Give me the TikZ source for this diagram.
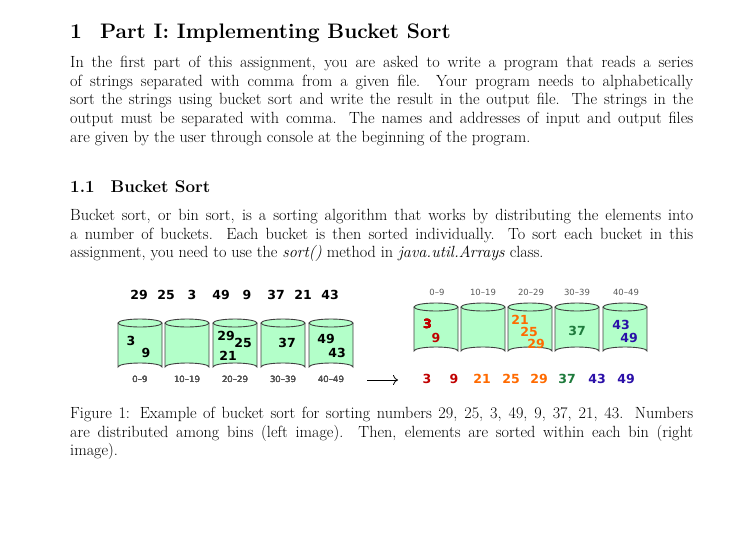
\documentclass[tikz,border=0pt]{standalone}
\usepackage{fontspec}
\usetikzlibrary{arrows.meta}
\newfontfamily\dv{DejaVu Sans}
\definecolor{bfill}{HTML}{B3FFC9}
\definecolor{cred}{HTML}{C00000}
\definecolor{corange}{HTML}{FF6A00}
\definecolor{cgreen}{HTML}{1E7A3C}
\definecolor{cblue}{HTML}{2A0FA8}
\newcommand{\cyl}[2]{%
  \path[fill=bfill,draw=black!75,line width=0.9pt] (#1-22,#2) -- (#1-22,#2+44) arc[start angle=180,end angle=360,x radius=22,y radius=4] -- (#1+22,#2) ;
  \draw[fill=bfill,draw=black!75,line width=0.9pt] (#1,#2) ellipse[x radius=22,y radius=4];}
\begin{document}
\begin{tikzpicture}[x=1pt,y=-1pt,
  body/.style={anchor=north west,inner sep=0pt,text width=623pt,align=justify,font=\fontsize{16.2}{18.7}\selectfont},
  num/.style={font=\dv\fontsize{12.5}{12.5}\selectfont\bfseries,inner sep=0pt},
  rng/.style={font=\dv\fontsize{8.5}{8.5}\selectfont\mdseries,text=black!65,inner sep=0pt}]
\useasboundingbox (0,0) rectangle (746,533);
\node[anchor=base west,inner sep=0pt,font=\fontsize{21}{21}\selectfont\bfseries] (h1) at (70,38) {1\hspace{18pt}Part I: Implementing Bucket Sort};
\node[body] (p1) at (70,56) {In the first part of this assignment, you are asked to write a program that reads a series\linebreak of strings separated with comma from a given file. Your program needs to alphabetically\linebreak sort the strings using bucket sort and write the result in the output file. The strings in the\linebreak output must be separated with comma. The names and addresses of input and output files\linebreak are given by the user through console at the beginning of the program.};
\node[anchor=base west,inner sep=0pt,font=\fontsize{17}{17}\selectfont\bfseries] (h2) at (70,192) {1.1\hspace{16pt}Bucket Sort};
\node[body] (p2) at (70,209) {Bucket sort, or bin sort, is a sorting algorithm that works by distributing the elements into a number of buckets. Each bucket is then sorted individually. To sort each bucket in this assignment, you need to use the \textit{sort()} method in \textit{java.util.Arrays} class.};
% left figure
\foreach \x/\t in {139/29,166/25,192/3,221/49,247/9,276/37,303/21,330/43}
  \node[num] (in\t) at (\x,295) {\t};
\foreach \x in {140,187,235,283,331} \cyl{\x}{323}
\foreach \x/\t in {140/0–9,187/10–19,235/20–29,283/30–39,331/40–49}
  \node[rng] (lr\x) at (\x,379) {\t};
\node[num] (a3) at (131,341) {3};
\node[num] (a9) at (146,353) {9};
\node[num] (a29) at (226,336) {29};
\node[num] (a25) at (243,343) {25};
\node[num] (a21) at (228,356) {21};
\node[num] (a37) at (287,343) {37};
\node[num] (a49) at (326,339) {49};
\node[num] (a43) at (337,353) {43};
% arrow
\coordinate (arS) at (367,380);
\coordinate (arE) at (398,380);
\draw[-{To[length=5pt,width=10pt]},line width=0.8pt] (arS) -- (arE);
% right figure
\foreach \x/\t in {437/0–9,483/10–19,531/20–29,577/30–39,626/40–49}
  \node[rng] (rr\x) at (\x,292) {\t};
\foreach \x in {436,483,530,577,625} \cyl{\x}{307}
\node[num,text=cred] (b3) at (427.5,324) {3};
\node[num,text=cred] (b9) at (436,338) {9};
\node[num,text=corange] (b21) at (520,320) {21};
\node[num,text=corange] (b25) at (529,332) {25};
\node[num,text=corange] (b29) at (536,344) {29};
\node[num,text=cgreen] (b37) at (577,331) {37};
\node[num,text=cblue] (b43) at (621,325) {43};
\node[num,text=cblue] (b49) at (629,338) {49};
\foreach \x/\t/\c in {427/3/cred,454/9/cred,482/21/corange,511/25/corange,539/29/corange,567/37/cgreen,597/43/cblue,626/49/cblue}
  \node[num,text=\c] (o\t) at (\x,379) {\t};
\node[body] (cap) at (70,407) {Figure 1: Example of bucket sort for sorting numbers 29, 25, 3, 49, 9, 37, 21, 43. Numbers\linebreak are distributed among bins (left image). Then, elements are sorted within each bin (right\linebreak image).};
\end{tikzpicture}
\end{document}
